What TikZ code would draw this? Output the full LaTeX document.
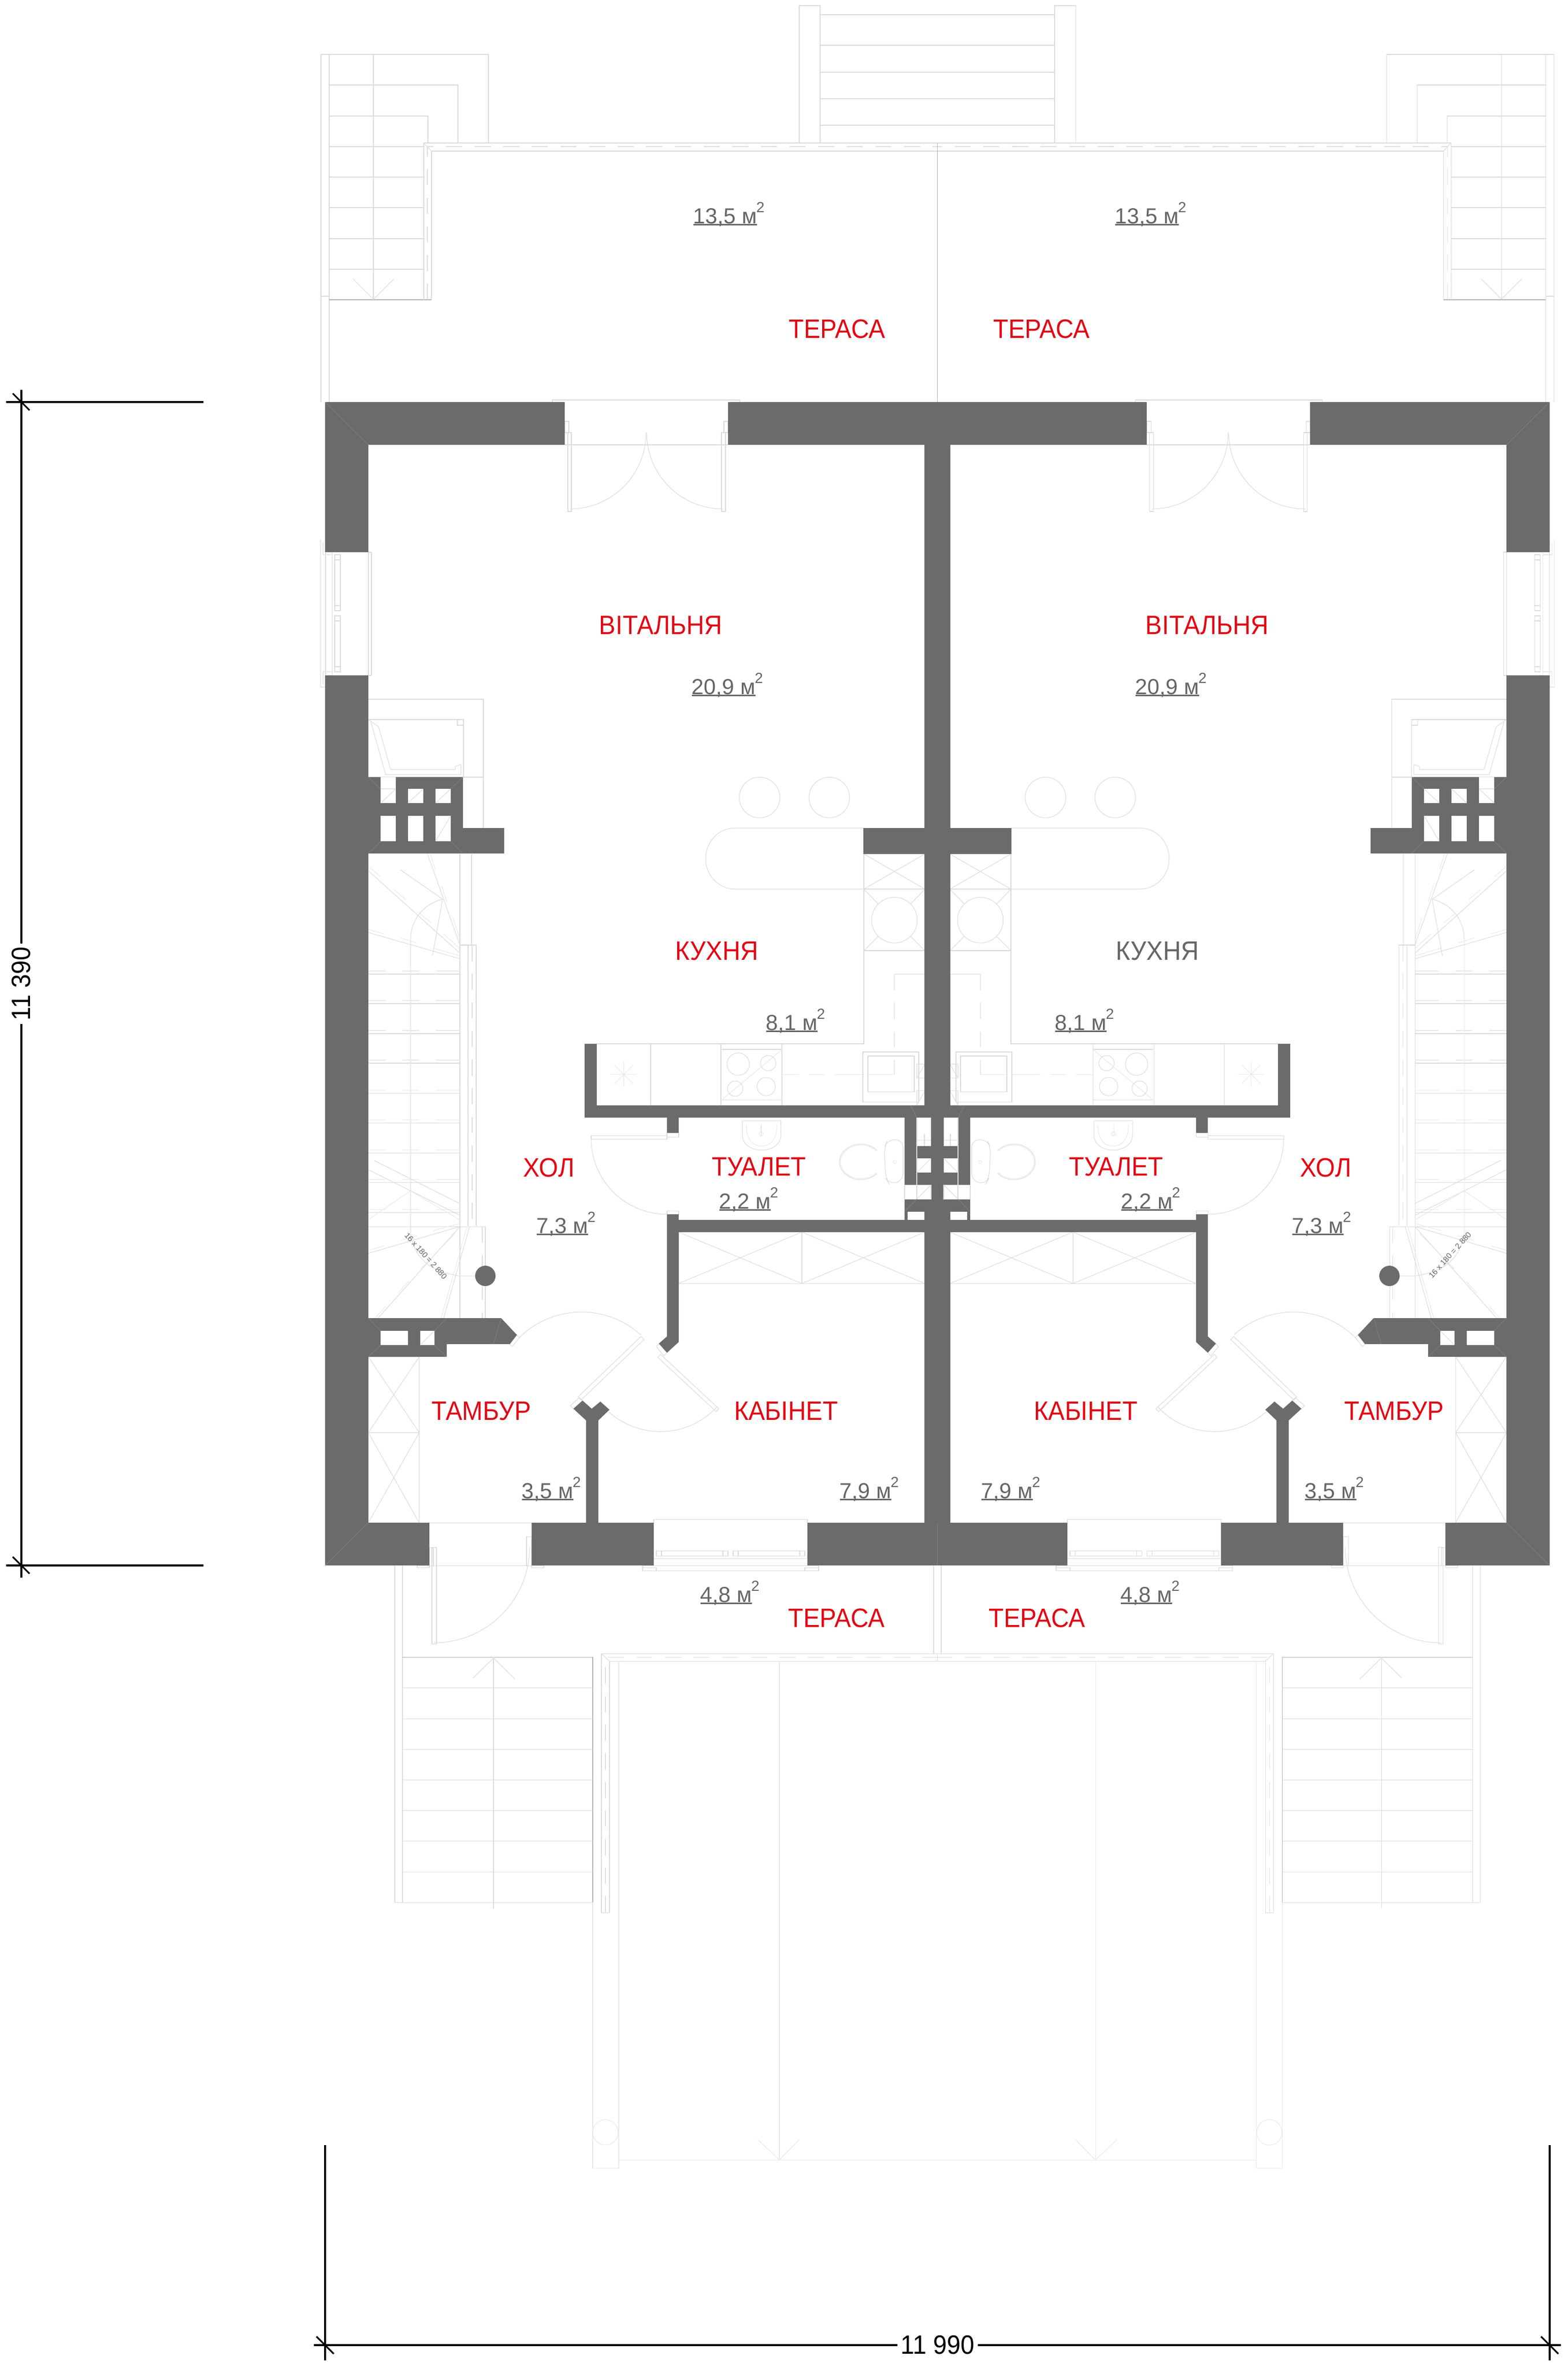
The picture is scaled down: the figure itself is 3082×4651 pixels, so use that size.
\documentclass[tikz,border=0pt]{standalone}
\usepackage{fontspec}
\setmainfont{Liberation Sans}
\newfontfamily\labfont[FakeStretch=0.93]{Liberation Sans}
\definecolor{wallc}{HTML}{6B6B6B}
\definecolor{redc}{HTML}{E30613}
\definecolor{grayt}{HTML}{666666}
\tikzset{
  wall/.style={fill=wallc},
  lite/.style={draw=black!14,line width=0.3pt},
  faint/.style={draw=black!9,line width=0.3pt},
  midl/.style={draw=black!30,line width=0.3pt},
  dashl/.style={draw=black!13,line width=0.3pt,dash pattern=on 9pt off 7pt},
  hair/.style={draw=black!48,line width=0.2pt},
  dimline/.style={draw=black,line width=0.9pt},
  roomlabel/.style={anchor=base,text=redc,font=\labfont\fontsize{14.9pt}{16pt}\selectfont,inner sep=0pt},
  roomgray/.style={anchor=base,text=grayt,font=\labfont\fontsize{14.9pt}{16pt}\selectfont,inner sep=0pt},
  arealabel/.style={anchor=base west,text=grayt,font=\fontsize{12.2pt}{14pt}\selectfont,inner sep=0pt},
  dimlabel/.style={fill=white,text=black,font=\labfont\fontsize{14.8pt}{16pt}\selectfont,inner xsep=2pt,inner ysep=1pt},
}
\newcommand\aream[1]{\setbox0=\hbox{#1 м}\rlap{\rule[-1.1pt]{\wd0}{0.7pt}}\box0\kern-0.3pt\raisebox{0.5em}{\fontsize{8.2pt}{9pt}\selectfont 2}}
% style, cx, cy, rx, ry, a1, a2
\newcommand\ellarc[7]{\draw[#1] plot[domain=#6:#7,samples=31] ({#2+#4*cos(\x)},{#3-#5*sin(\x)});}
\newcommand\crc[4]{\ellarc{#1}{#2}{#3}{#4}{#4}{0}{360}}
\newcommand\xbox[4]{\draw[lite] (#1,#2) rectangle (#3,#4) (#1,#2) -- (#3,#4) (#1,#4) -- (#3,#2);}
\newcommand\halfplan{%
  % ---- upper corner stair
  \draw[lite] (631,790) -- (631,107) -- (960,107) -- (960,281);
  \draw[lite] (647,790) -- (647,107);
  \draw[lite] (631,582) -- (647,582);
  \draw[lite] (647,167) -- (900,167) -- (900,281);
  \draw[lite] (647,228) -- (841,228) -- (841,281);
  \foreach \yy in {288,348,408,469,529} {\draw[lite] (647,\yy) -- (833,\yy);}
  \draw[midl] (647,589) -- (848,589);
  \draw[lite] (734,107) -- (734,589);
  \draw[lite] (694,548) -- (734,588) -- (774,548);
  % ---- upper terrace parapet
  \draw[lite] (833,589) -- (833,281) -- (1843,281);
  \draw[lite] (848,589) -- (848,297) -- (1843,297);
  \draw[dashl] (840,589) -- (840,288) -- (1843,288);
  \draw[lite] (833,281) -- (848,297);
  \draw[midl] (1842.5,281) -- (1842.5,790);
  % ---- central top stair
  \draw[lite] (1571,11) rectangle (1612,281);
  \foreach \yy in {29,89,142,194,246} {\draw[lite] (1612,\yy) -- (1842.5,\yy);}
  % ---- terrace door
  \draw[lite] (1086,790) -- (1086,786) -- (1454,786) -- (1454,790);
  \draw[lite] (1110,874) -- (1431,874);
  \draw[lite] (1110,828) rectangle (1118,850);
  \draw[lite] (1423,828) rectangle (1431,850);
  \draw[lite] (1116,850) rectangle (1123,1005);
  \draw[lite] (1418,850) rectangle (1426,1005);
  \ellarc{lite}{1120}{850}{150}{150}{0}{-90}
  \ellarc{lite}{1421}{850}{150}{150}{180}{270}
  % ---- side window
  \draw[lite] (640,1085) -- (640,1327);
  \draw[lite] (724,1085) -- (724,1327);
  \draw[lite] (730,1085) -- (730,1327);
  \draw[lite] (724,1085) -- (730,1085) (724,1327) -- (730,1327);
  \draw[faint] (630,1060) -- (630,1350) -- (640,1350);
  \draw[faint] (635,1066) -- (635,1090) -- (653,1090);
  \draw[faint] (635,1345) -- (635,1320) -- (653,1320);
  \draw[faint] (653,1085) -- (653,1327);
  \draw[lite] (658,1090) rectangle (669,1200);
  \draw[lite] (658,1100) -- (669,1100) (658,1190) -- (669,1190);
  \draw[lite] (658,1210) rectangle (669,1320);
  \draw[lite] (658,1220) -- (669,1220) (658,1310) -- (669,1310);
  % ---- fireplace box
  \draw[lite] (724,1374) -- (950,1374) -- (950,1627);
  \draw[lite] (724,1527) -- (950,1527);
  \draw[lite] (724,1414) -- (911,1414) -- (911,1527);
  \draw[lite] (899,1414) rectangle (911,1425);
  \draw[lite] (729,1419) -- (758,1522) -- (906,1522) -- (906,1502);
  \draw[lite] (744,1428) -- (768,1512) -- (895,1512) -- (895,1506) -- (906,1502);
  \draw[lite] (724,1414) -- (744,1428);
  % ---- main stair
  \draw[lite] (904,1678) -- (904,2590);
  \draw[lite] (927,1678) -- (927,1857);
  \draw[lite] (904,1857) -- (936,1857) -- (936,2409);
  \draw[lite] (920,1857) -- (920,2409);
  \draw[dashl] (928,1857) -- (928,2409);
  \foreach \yy in {1914,1972,2031,2089,2148,2206,2265,2323,2382} {
    \draw[lite] (724,\yy) -- (904,\yy);
    \draw[faint] (724,\yy-6) -- (758,\yy-6) (791,\yy-6) -- (824,\yy-6) (857,\yy-6) -- (904,\yy-6);
  }
  \draw[faint] (807,1847) -- (807,2423);
  \draw[lite] (807,1847) .. controls (807,1805) and (835,1775) .. (870,1767);
  \draw[lite] (840,1677) -- (904,1857);
  \draw[faint] (846,1678) -- (855,1708) (868,1740) -- (878,1772) (890,1803) -- (903,1843);
  \draw[lite] (725,1712) -- (904,1873);
  \draw[faint] (725,1703) -- (748,1723) (774,1747) -- (798,1768) (823,1793) -- (847,1813) (872,1835) -- (903,1863);
  \draw[lite] (723,1832) -- (904,1884);
  \draw[faint] (723,1826) -- (755,1835) (788,1843) -- (819,1853) (852,1863) -- (904,1878);
  \draw[lite] (787,1709) -- (870,1767) -- (850,1878);
  % lower winder
  \draw[lite] (735,2280) -- (904,2365);
  \draw[lite] (723,2298) -- (904,2388);
  \draw[faint] (807,2340) -- (904,2397);
  \draw[faint] (723,2397) -- (807,2340);
  \draw[lite] (724,2410) -- (954,2410) -- (954,2590);
  \draw[lite] (723,2463) -- (904,2410);
  \draw[faint] (723,2457) -- (755,2448) (788,2437) -- (820,2428) (852,2418) -- (904,2404);
  \draw[lite] (743,2590) -- (904,2410);
  \draw[faint] (737,2590) -- (758,2567) (783,2540) -- (803,2518) (827,2493) -- (853,2467) (872,2447) -- (895,2423);
  \draw[lite] (872,2590) -- (923,2410);
  \draw[faint] (867,2590) -- (918,2410);
  \draw[dashl] (948,2410) -- (948,2590);
  \draw[lite] (807,2423) .. controls (815,2470) and (840,2497) .. (902,2507) -- (940,2507);
  \ellarc{draw=none,fill=wallc}{954}{2507}{20}{20}{0}{360}
  % ---- kitchen
  \draw[lite] (1173,2051) -- (1698,2051) -- (1698,1627);
  \draw[lite] (1279,2051) -- (1279,2172);
  \draw[lite] (1417,2051) rectangle (1537,2172);
  \draw[lite] (1419,2062) -- (1537,2062);
  \draw[lite] (1419,2161) -- (1537,2161);
  \draw[faint] (1419,2161) -- (1537,2062);
  \crc{lite}{1451}{2091}{22}
  \crc{lite}{1510}{2089}{15}
  \crc{lite}{1445}{2139}{15}
  \crc{lite}{1506}{2135}{18}
  \draw[faint] (1201,2111) -- (1251,2111) (1226,2086) -- (1226,2136) (1208,2093) -- (1244,2129) (1208,2129) -- (1244,2093);
  \draw[faint] (1537,2111) -- (1570,2111) (1590,2111) -- (1620,2111) (1640,2111) -- (1698,2111);
  \draw[lite] (1696,2067) rectangle (1806,2165);
  \draw[lite] (1706,2075) rectangle (1797,2145);
  \draw[faint] (1818,1914) -- (1758,1914);
  \draw[faint,dash pattern=on 9pt off 7pt] (1758,1914) -- (1758,2111);
  \draw[faint] (1708,2111) -- (1758,2111);
  \draw[lite] (1802,2091) rectangle (1818,2118) (1802,2118) -- (1818,2091);
  \draw[lite] (1802,2143) rectangle (1818,2172) (1802,2172) -- (1818,2143);
  \xbox{1698}{1678}{1818}{1747}
  \draw[lite] (1698,1747) rectangle (1818,1868);
  \draw[lite] (1698,1747) -- (1726,1776) (1818,1747) -- (1790,1776) (1698,1868) -- (1726,1840) (1818,1868) -- (1790,1840);
  \crc{lite}{1758}{1808}{45}
  \draw[lite] (1698,1627) -- (1445,1627) .. controls (1412,1627) and (1387,1654) .. (1387,1687) .. controls (1387,1720) and (1412,1747) .. (1445,1747) -- (1698,1747);
  \crc{lite}{1493}{1567}{40}
  \crc{lite}{1630}{1567}{40}
  % ---- toilet fixtures
  \draw[lite] (1459,2202) -- (1535,2202) -- (1535,2230) .. controls (1535,2250) and (1515,2260) .. (1497,2260) .. controls (1479,2260) and (1459,2250) .. (1459,2230) -- cycle;
  \draw[faint] (1467,2210) .. controls (1467,2245) and (1485,2252) .. (1497,2252) .. controls (1509,2252) and (1527,2245) .. (1527,2210);
  \draw[faint] (1496,2210) -- (1496,2232);
  \crc{faint}{1496}{2228}{4}
  \draw[lite,rounded corners=4pt] (1775,2240) -- (1745,2239) -- (1738,2255) -- (1741,2315) -- (1748,2327) -- (1775,2320) -- cycle;
  \ellarc{lite}{1692}{2283}{42}{35}{40}{320}
  \ellarc{faint}{1692}{2283}{40}{33}{40}{320}
  \crc{faint}{1759}{2283}{3}
  % ---- WC door
  \draw[lite] (1162,2231) rectangle (1311,2238);
  \draw[lite] (1311,2226) rectangle (1334,2234);
  \draw[lite] (1311,2379) rectangle (1334,2386);
  \ellarc{lite}{1311}{2238}{149}{148}{180}{270}
  % ---- closets
  \xbox{1334}{2421}{1576}{2522}
  \xbox{1576}{2421}{1818}{2522}
  \xbox{724}{2666}{824}{2815}
  \xbox{724}{2815}{824}{2992}
  % ---- interior doors
  \draw[lite] (1260,2626) -- (1266,2632) -- (1142,2751) -- (1136,2745) -- cycle;
  \ellarc{lite}{1143}{2752}{174}{174}{48}{135}
  \draw[lite] (1298,2661) -- (1413,2768) -- (1408,2774) -- (1293,2667) -- cycle;
  \ellarc{lite}{1298}{2661}{152}{152}{-43}{-132}
  \draw[lite] (1002,2641) -- (1016,2623) -- (1021,2628) -- (1007,2646) -- cycle;
  \draw[lite] (1295,2640) -- (1290,2646) -- (1305,2664) -- (1311,2658);
  \draw[lite] (1127,2768) -- (1121,2762) -- (1139,2746) -- (1145,2752);
  % ---- entrance door
  \draw[lite] (844,2992) -- (1045,2992);
  \draw[lite] (844,3076) -- (1045,3076);
  \draw[lite] (844,3041) rectangle (852,3076);
  \draw[lite] (1035,3019) rectangle (1045,3076);
  \draw[lite] (820,3076) rectangle (844,3080);
  \draw[lite] (1045,3076) rectangle (1069,3080);
  \draw[lite] (849,3040) rectangle (858,3230);
  \ellarc{lite}{853}{3040}{188}{188}{0}{-90}
  % ---- front window
  \draw[lite] (1285,2985) -- (1587,2985);
  \draw[lite] (1285,2985) -- (1285,2992) (1587,2985) -- (1587,2992);
  \draw[lite] (1285,3062) -- (1587,3062);
  \draw[lite] (1290,3047) rectangle (1431,3057);
  \draw[lite] (1300,3047) -- (1300,3057) (1421,3047) -- (1421,3057);
  \draw[lite] (1441,3047) rectangle (1582,3057);
  \draw[lite] (1451,3047) -- (1451,3057) (1572,3047) -- (1572,3057);
  \draw[lite] (1263,3076) rectangle (1609,3086);
  \draw[lite] (1263,3086) rectangle (1290,3080);
  \draw[lite] (1582,3080) rectangle (1609,3086);
  % ---- lower terrace and stair
  \draw[lite] (776,3076) -- (776,3738);
  \draw[lite] (791,3076) -- (791,3738);
  \draw[midl] (791,3256) -- (1165,3256);
  \draw[midl] (1165,3256) -- (1165,3738);
  \draw[lite] (776,3738) -- (1165,3738);
  \foreach \yy in {3316,3377,3437,3497,3557,3617,3678} {\draw[lite] (791,\yy) -- (1165,\yy);}
  \draw[lite] (970,3256) -- (970,3750);
  \draw[lite] (930,3297) -- (970,3258) -- (1012,3299);
  \draw[lite] (1198,3758) -- (1198,3264);
  \draw[lite] (1182,3758) -- (1182,3249) -- (1843,3249);
  \draw[lite] (1182,3758) -- (1198,3758);
  \draw[lite] (1198,3264) -- (1843,3264);
  \draw[dashl] (1190,3758) -- (1190,3256) -- (1843,3256);
  \draw[lite] (1182,3249) -- (1198,3264);
  \draw[lite] (1835,3076) -- (1835,3249);
  \draw[lite] (1842.5,3249) -- (1842.5,3264);
  \draw[faint] (1216,3264) -- (1216,4260) -- (1165,4260) -- (1165,3738);
  \draw[faint] (1216,4244) -- (1843,4244);
  \crc{faint}{1190}{4190}{25}
  \draw[faint] (1532,3264) -- (1532,4244);
  \draw[faint] (1489,4204) -- (1532,4244) -- (1571,4204);
  % ---- walls
  \fill[wall] (639,790) rectangle (1110,874);
  \fill[wall] (1431,790) rectangle (1843,874);
  \fill[wall] (639,790) rectangle (724,1085);
  \fill[wall] (639,1327) rectangle (724,3076);
  \fill[wall] (1817,790) rectangle (1843,2196);
  \fill[wall] (639,2992) rectangle (844,3076);
  \fill[wall] (1045,2992) rectangle (1285,3076);
  \fill[wall] (1587,2992) rectangle (1843,3076);
  % upper vent block
  \fill[wall] (724,1527) rectangle (910,1677);
  \fill[wall] (910,1627) rectangle (991,1677);
  \fill[white] (748,1527) rectangle (778,1578);
  \fill[white] (802,1550) rectangle (832,1578);
  \fill[white] (856,1550) rectangle (886,1578);
  \fill[white] (748,1603) rectangle (778,1653);
  \fill[white] (802,1603) rectangle (832,1653);
  \fill[white] (856,1603) rectangle (886,1653);
  \draw[lite] (748,1550) -- (778,1550) (748,1578) -- (778,1550) (802,1578) -- (832,1550) (856,1578) -- (886,1550) (856,1653) -- (886,1603);
  \draw[hair] (724,1527) -- (748,1550) (910,1527) -- (886,1550) (724,1677) -- (748,1653) (910,1677) -- (886,1653);
  % kitchen wall and centre
  \fill[wall] (1697,1627) rectangle (1843,1678);
  \fill[wall] (1149,2172) rectangle (1843,2196);
  \fill[wall] (1149,2051) rectangle (1173,2196);
  \fill[wall] (1311,2196) rectangle (1334,2226);
  \fill[wall] (1778,2196) rectangle (1802,2328);
  \fill[wall] (1830,2196) rectangle (1843,2356);
  \fill[wall] (1802,2252) rectangle (1830,2276);
  \fill[wall] (1802,2304) rectangle (1830,2328);
  \fill[wall] (1778,2356) rectangle (1843,2381);
  \fill[wall] (1778,2381) rectangle (1784,2397);
  \fill[wall] (1334,2397) rectangle (1843,2421);
  \fill[wall] (1817,2381) rectangle (1843,3076);
  \draw[lite] (1778,2328) rectangle (1830,2356);
  \draw[lite] (1802,2196) -- (1802,2356);
  \draw[lite] (1802,2304) -- (1830,2276) (1802,2356) -- (1830,2328);
  \draw[lite] (1802,2240) -- (1830,2240) (1817,2228) -- (1817,2252);
  \draw[hair] (1778,2381) -- (1802,2356) (1790,2172) -- (1802,2196);
  % hall wall, partition
  \fill[wall] (1311,2386) -- (1334,2386) -- (1334,2637) -- (1311,2658) -- (1295,2640) -- (1311,2626) -- cycle;
  \fill[wall] (1152,2992) -- (1152,2791) -- (1127,2768) -- (1145,2752) -- (1163,2768) -- (1180,2754) -- (1198,2770) -- (1176,2791) -- (1176,2992) -- cycle;
  % lower vent block
  \fill[wall] (724,2590) -- (985,2590) -- (1016,2623) -- (1002,2641) -- (878,2641) -- (878,2666) -- (724,2666) -- cycle;
  \fill[white] (748,2615) rectangle (802,2643);
  \fill[white] (826,2615) rectangle (854,2643);
  \draw[lite] (826,2643) -- (854,2615);
  \draw[hair] (724,2590) -- (748,2615) (878,2590) -- (854,2615) (724,2666) -- (748,2643) (878,2666) -- (854,2643) (985,2590) -- (970,2641);
  % hairlines in walls
  \draw[hair] (639,790) -- (724,874);
  \draw[hair] (639,3076) -- (724,2992);
  \draw[hair] (1842.5,2992) -- (1842.5,3076);
}
\begin{document}
\begin{tikzpicture}[x=0.01cm,y=-0.01cm]
\useasboundingbox (0,0) rectangle (3082,4651);
\fill[white] (0,0) rectangle (3082,4651);
\halfplan
\begin{scope}[shift={(3685,0)},xscale=-1]
\halfplan
\end{scope}
% dimensions
\draw[dimline] (12,790) -- (400,790);
\draw[dimline] (12,3076) -- (400,3076);
\coordinate (dvt) at (42,766);
\coordinate (dvb) at (42,3100);
\draw[dimline] (dvt) -- (dvb);
\draw[dimline] (25,773) -- (58,806);
\draw[dimline] (25,3059) -- (58,3092);
\node[dimlabel,rotate=90] (dimv) at (42,1933) {11 390};
\draw[dimline] (639,4215) -- (639,4638);
\draw[dimline] (3046,4215) -- (3046,4638);
\coordinate (dhl) at (617,4608);
\coordinate (dhr) at (3068,4608);
\draw[dimline] (dhl) -- (dhr);
\draw[dimline] (622,4591) -- (656,4625);
\draw[dimline] (3029,4591) -- (3063,4625);
\node[dimlabel] (dimh) at (1843,4608) {11 990};
% room labels
\node[roomlabel] (t1) at (1645,664) {ТЕРАСА};
\node[roomlabel] (t2) at (2047,664) {ТЕРАСА};
\node[roomlabel] (t3) at (1644,3197) {ТЕРАСА};
\node[roomlabel] (t4) at (2038,3197) {ТЕРАСА};
\node[roomlabel] (v1) at (1299,1246) {ВІТАЛЬНЯ};
\node[roomlabel] (v2) at (2373,1246) {ВІТАЛЬНЯ};
\node[roomlabel] (k1) at (1409,1886) {КУХНЯ};
\node[roomgray] (k2) at (2275,1886) {КУХНЯ};
\node[roomlabel] (h1) at (1079,2312) {ХОЛ};
\node[roomlabel] (h2) at (2606,2312) {ХОЛ};
\node[roomlabel] (w1) at (1492,2310) {ТУАЛЕТ};
\node[roomlabel] (w2) at (2194,2310) {ТУАЛЕТ};
\node[roomlabel] (b1) at (946,2790) {ТАМБУР};
\node[roomlabel] (b2) at (2740,2790) {ТАМБУР};
\node[roomlabel] (c1) at (1545,2790) {КАБІНЕТ};
\node[roomlabel] (c2) at (2134,2790) {КАБІНЕТ};
% areas
\node[arealabel] (a1) at (1362,439) {\aream{13,5}};
\node[arealabel] (a2) at (2191,439) {\aream{13,5}};
\node[arealabel] (a3) at (1359,1364) {\aream{20,9}};
\node[arealabel] (a4) at (2231,1364) {\aream{20,9}};
\node[arealabel] (a5) at (1505,2024) {\aream{8,1}};
\node[arealabel] (a6) at (2073,2024) {\aream{8,1}};
\node[arealabel] (a7) at (1054,2423) {\aream{7,3}};
\node[arealabel] (a8) at (2539,2423) {\aream{7,3}};
\node[arealabel] (a9) at (1413,2375) {\aream{2,2}};
\node[arealabel] (a10) at (2203,2375) {\aream{2,2}};
\node[arealabel] (a11) at (1025,2944) {\aream{3,5}};
\node[arealabel] (a12) at (2564,2944) {\aream{3,5}};
\node[arealabel] (a13) at (1650,2944) {\aream{7,9}};
\node[arealabel] (a14) at (1928,2944) {\aream{7,9}};
\node[arealabel] (a15) at (1376,3148) {\aream{4,8}};
\node[arealabel] (a16) at (2202,3148) {\aream{4,8}};
% stair notes
\node[text=grayt,font=\fontsize{4.4pt}{5pt}\selectfont,rotate=-48,inner sep=0pt] (s1) at (837,2468) {16 x 180 = 2 880};
\node[text=grayt,font=\fontsize{4.4pt}{5pt}\selectfont,rotate=48,inner sep=0pt] (s2) at (2850,2466) {16 x 180 = 2 880};
\end{tikzpicture}
\end{document}
